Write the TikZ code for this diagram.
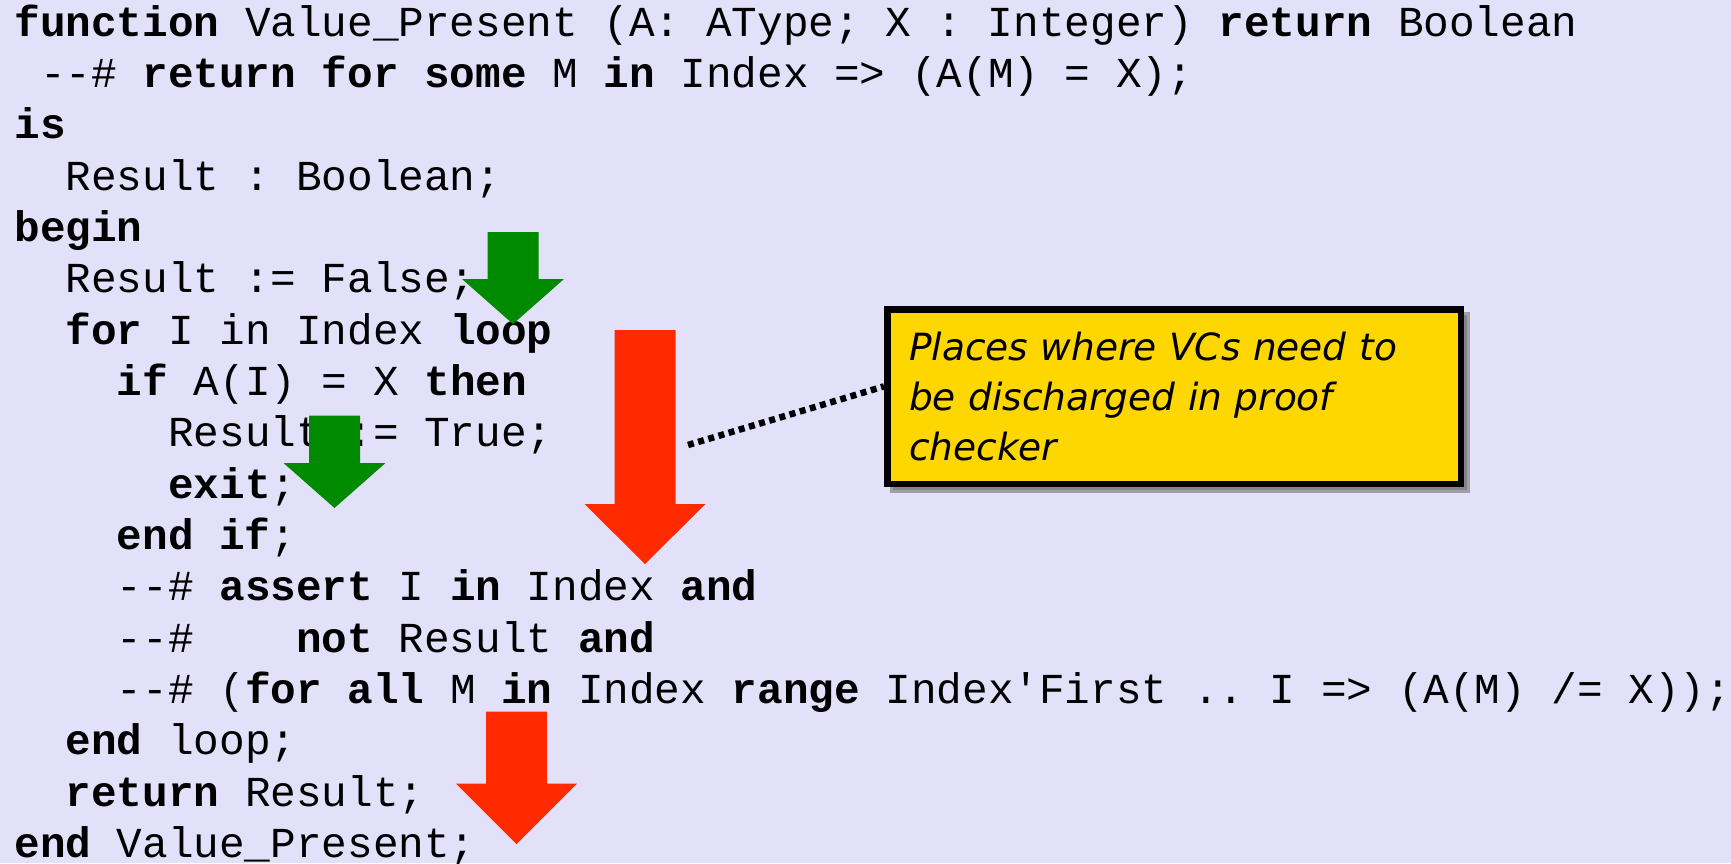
\documentclass[tikz,border=0pt]{standalone}
\usepackage{fontspec}
\setmonofont{Liberation Mono}
\newfontfamily\notefont{DejaVu Sans}
\usepackage{tikz}
\usetikzlibrary{shadows}
\definecolor{slidebg}{RGB}{227,224,250}
\definecolor{vcgreen}{RGB}{0,138,0}
\definecolor{vcred}{RGB}{255,42,0}
\definecolor{notegold}{RGB}{255,215,0}

\begin{document}
\begin{tikzpicture}[
    x=0.5pt, y=-0.5pt,
    code/.style={anchor=base west, inner sep=0pt, font=\ttfamily\fontsize{21.35}{25.7}\selectfont},
    note/.style={draw=black, line width=3.25pt, fill=notegold, minimum width=286.75pt, minimum height=87.25pt,
        inner sep=0pt, text width=265pt, align=left, font=\notefont\itshape\fontsize{18.75}{25}\selectfont,
        drop shadow={shadow xshift=3pt, shadow yshift=-3pt, fill=black!55, draw=black!55, line width=3.25pt, opacity=0.6}},
    greenarrow/.style={fill=vcgreen},
    redarrow/.style={fill=vcred},
]
    % slide background
    \fill[slidebg] (0,0) rectangle (1731,863);
    \useasboundingbox (0,0) rectangle (1731,863);

    % the SPARK function, one node per line
    \node[code] (sig)     at (14,36)     {\textbf{function} Value\_Present (A: AType; X : Integer) \textbf{return} Boolean};
    \node[code] (post)    at (14,87.35)  {~--\# \textbf{return for some} M \textbf{in} Index => (A(M) = X);};
    \node[code] (is)      at (14,138.7)  {\textbf{is}};
    \node[code] (decl)    at (14,190.05) {~~Result : Boolean;};
    \node[code] (begin)   at (14,241.4)  {\textbf{begin}};
    \node[code] (init)    at (14,292.75) {~~Result := False;};
    \node[code] (loop)    at (14,344.1)  {~~\textbf{for} I in Index \textbf{loop}};
    \node[code] (iftest)  at (14,395.45) {~~~~\textbf{if} A(I) = X \textbf{then}};
    \node[code] (assign)  at (14,446.8)  {~~~~~~Result := True;};
    \node[code] (exit)    at (14,498.15) {~~~~~~\textbf{exit};};
    \node[code] (endif)   at (14,549.5)  {~~~~\textbf{end if};};
    \node[code] (inva)    at (14,600.85) {~~~~--\# \textbf{assert} I \textbf{in} Index \textbf{and}};
    \node[code] (invb)    at (14,652.2)  {~~~~--\#~~~~\textbf{not} Result \textbf{and}};
    \node[code] (invc)    at (14,703.55) {~~~~--\# (\textbf{for all} M \textbf{in} Index \textbf{range} Index'First .. I => (A(M) /= X));};
    \node[code] (endloop) at (14,754.9)  {~~\textbf{end} loop;};
    \node[code] (ret)     at (14,806.25) {~~\textbf{return} Result;};
    \node[code] (endfn)   at (14,857.6)  {\textbf{end} Value\_Present;};

    % green arrows
    \fill[greenarrow] (487.5,232) -- (538.5,232) -- (538.5,279) -- (564,279) -- (513,324) -- (462,279) -- (487.5,279) -- cycle;
    \fill[greenarrow] (309,415.5) -- (360,415.5) -- (360,463) -- (385.5,463) -- (334.5,508) -- (283.5,463) -- (309,463) -- cycle;

    % red arrows
    \fill[redarrow] (614.5,330) -- (675.5,330) -- (675.5,504) -- (705.5,504) -- (645,564) -- (584.5,504) -- (614.5,504) -- cycle;
    \fill[redarrow] (486,711.5) -- (547,711.5) -- (547,783.5) -- (577,783.5) -- (516.5,844) -- (456,783.5) -- (486,783.5) -- cycle;

    % callout
    \node[note] (note) at (1174,396.5) {Places where VCs need to\\be discharged in proof\\checker};
    \coordinate (callfrom) at (688,445);
    \draw[line width=3.25pt, dash pattern=on 3pt off 2.3pt] (callfrom) -- (note.178);
\end{tikzpicture}
\end{document}
